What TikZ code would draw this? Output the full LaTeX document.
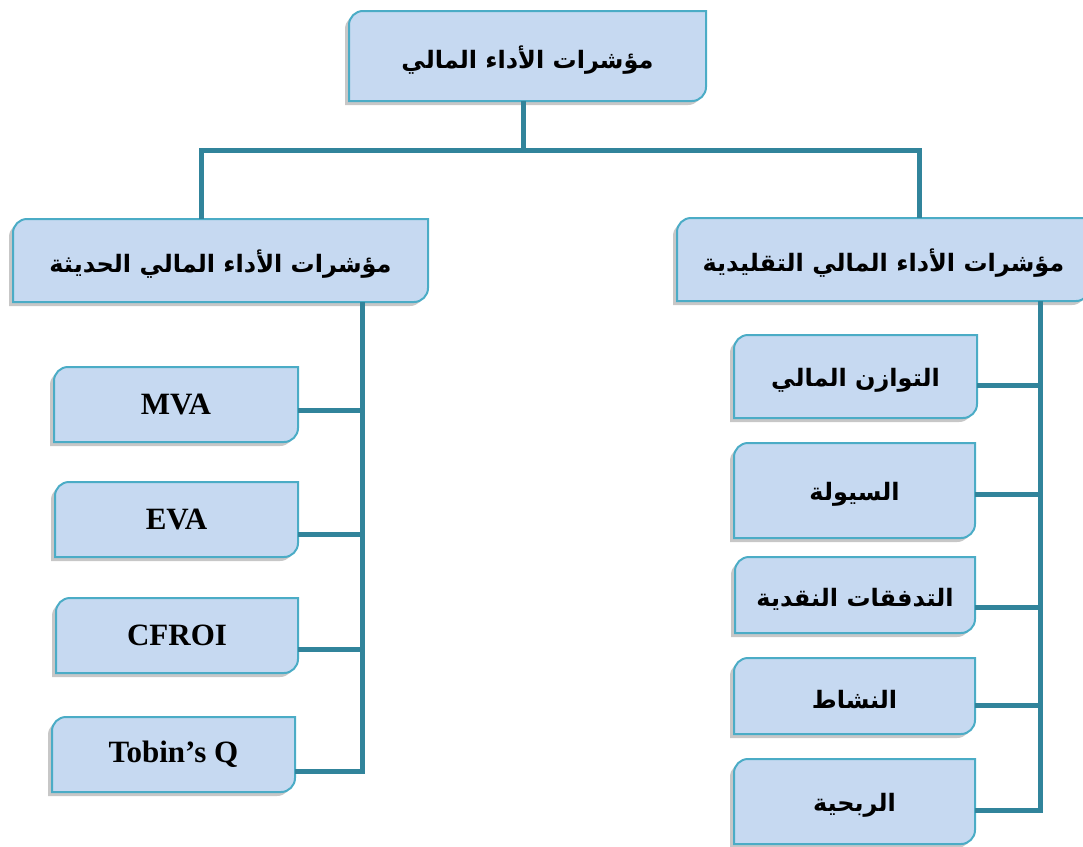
\documentclass[tikz,border=0pt]{standalone}
\usepackage{fontspec}
\setmainfont{Liberation Serif}
\newfontfamily\arabicfont[Script=Arabic]{DejaVu Sans}
\TeXXeTstate=1
\usetikzlibrary{backgrounds,shadows}
\definecolor{boxfill}{HTML}{C6D9F1}
\definecolor{boxline}{HTML}{4BACC6}
\definecolor{connc}{HTML}{31849B}
\tikzset{
  boxtext/.style={inner sep=0pt, outer sep=0pt, text=black, font=\bfseries\fontsize{31}{36}\selectfont},
  artext/.style={font=\arabicfont\bfseries\fontsize{24}{30}\selectfont},
  boxshape/.style={fill=boxfill, draw=boxline, line width=2pt,
    drop shadow={shadow xshift=-4pt, shadow yshift=-4pt, opacity=0.22, fill=black}},
  conn/.style={draw=connc, line width=5pt, line join=miter}
}
\newcommand{\mkbox}[7]{%
  \node[boxtext, #6, minimum width={(#4-#2)*1pt}, minimum height={(#5-#3)*1pt}]
    (#1) at ({(#2+#4)/2},{-(#3+#5)/2}) {#7};
  \begin{pgfonlayer}{background}
    \path[boxshape] (#1.south west) -- ([yshift=-14pt]#1.north west)
      arc[start angle=180, end angle=90, radius=14pt] -- (#1.north east)
      -- ([yshift=14pt]#1.south east)
      arc[start angle=0, end angle=-90, radius=14pt] -- cycle;
  \end{pgfonlayer}}
\newcommand{\ar}[1]{\raisebox{-4pt}[\height][\depth]{\beginR #1\endR}}
\begin{document}
\begin{tikzpicture}[x=1pt, y=1pt]
  \useasboundingbox (0,0) rectangle (1083,-846);
  % boxes
  \mkbox{top}{349}{11}{706}{101}{artext}{\ar{مؤشرات الأداء المالي}}
  \mkbox{L}{13}{219}{428}{302}{artext}{\ar{مؤشرات الأداء المالي الحديثة}}
  \mkbox{R}{677}{218}{1090}{301}{artext}{\ar{مؤشرات الأداء المالي التقليدية}}
  \mkbox{m1}{54}{367}{298}{442}{}{MVA}
  \mkbox{m2}{55}{482}{298}{557}{}{EVA}
  \mkbox{m3}{56}{598}{298}{673}{}{CFROI}
  \mkbox{m4}{52}{717}{295}{792}{}{Tobin’s Q}
  \mkbox{r1}{734}{335}{977}{418}{artext}{\ar{التوازن المالي}}
  \mkbox{r2}{734}{443}{975}{538}{artext}{\ar{السيولة}}
  \mkbox{r3}{735}{557}{975}{633}{artext}{\ar{التدفقات النقدية}}
  \mkbox{r4}{734}{658}{975}{734}{artext}{\ar{النشاط}}
  \mkbox{r5}{734}{759}{975}{844}{artext}{\ar{الربحية}}
  % connectors
  \draw[conn] ([xshift=-4.5pt]top.south) -- ++(0,-49);
  \draw[conn] ([xshift=-19.5pt]L.north) -- ++(0,69) -| ([xshift=35.5pt]R.north);
  \coordinate (LT) at ([xshift=-66pt]L.south east);
  \coordinate (RT) at ([xshift=-50pt]R.south east);
  \draw[conn] (LT) |- ([yshift=-16.5pt]m4.east);
  \draw[conn] ([yshift=-5.5pt]m1.east) -- ([yshift=-5.5pt]m1.east -| LT);
  \draw[conn] ([yshift=-14.5pt]m2.east) -- ([yshift=-14.5pt]m2.east -| LT);
  \draw[conn] ([yshift=-13.5pt]m3.east) -- ([yshift=-13.5pt]m3.east -| LT);
  \draw[conn] (RT) |- ([yshift=-8.5pt]r5.east);
  \draw[conn] ([yshift=-8.5pt]r1.east) -- ([yshift=-8.5pt]r1.east -| RT);
  \draw[conn] ([yshift=-3.5pt]r2.east) -- ([yshift=-3.5pt]r2.east -| RT);
  \draw[conn] ([yshift=-12pt]r3.east) -- ([yshift=-12pt]r3.east -| RT);
  \draw[conn] ([yshift=-9pt]r4.east) -- ([yshift=-9pt]r4.east -| RT);
\end{tikzpicture}
\end{document}
